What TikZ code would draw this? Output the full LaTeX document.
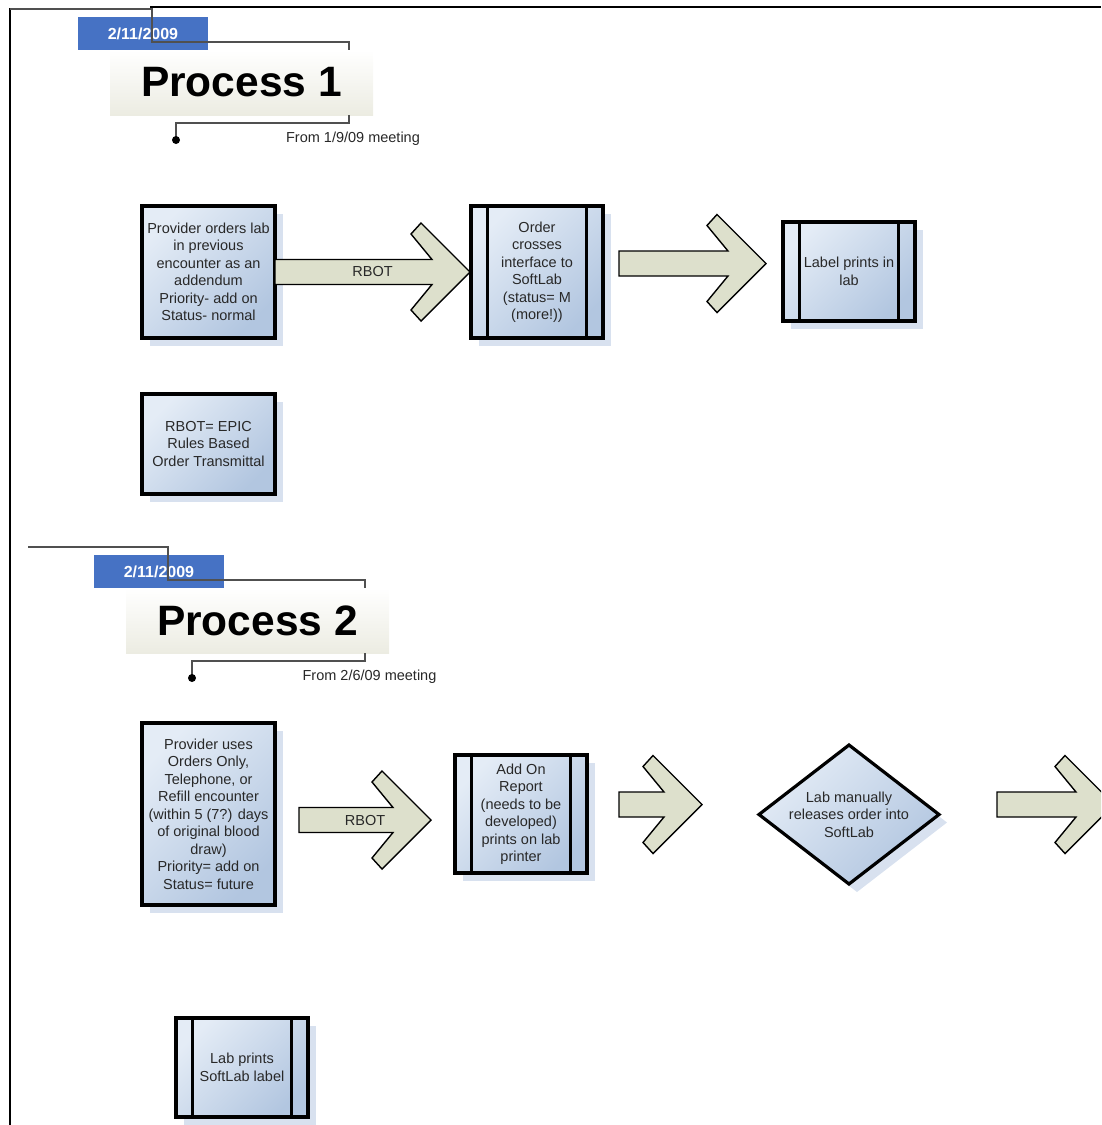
\documentclass[tikz,border=0pt]{standalone}
\usepackage{fontspec}
\setmainfont{Liberation Sans}
\usetikzlibrary{shapes.geometric, shadows, calc}

\definecolor{boxtop}{RGB}{228,236,246}
\definecolor{boxbot}{RGB}{178,198,224}
\definecolor{shadowbl}{RGB}{216,225,239}
\definecolor{arrowfill}{RGB}{221,224,204}
\definecolor{datebl}{RGB}{70,114,196}
\definecolor{titlebot}{RGB}{236,236,226}
\definecolor{txtgray}{RGB}{40,40,40}
\definecolor{callgray}{RGB}{80,80,80}

\tikzset{
  flowbox/.style={draw=black, line width=3.2pt, outer sep=0pt, inner sep=0pt,
    top color=boxtop, bottom color=boxbot, shading angle=45,
    drop shadow={shadow xshift=8pt, shadow yshift=-8pt, fill=shadowbl, opacity=1},
    text=txtgray, align=center, font=\fontsize{14.5}{17.5}\selectfont},
  barline/.style={line width=3.2pt},
  bigarrow/.style={draw=black, line width=1.4pt, fill=arrowfill, line join=miter},
  arrowtext/.style={text=txtgray, font=\fontsize{14.5}{17.5}\selectfont},
  datebox/.style={fill=datebl, text=white, minimum width=130pt, minimum height=33pt,
    inner sep=0pt, font=\fontsize{16}{18}\selectfont\bfseries},
  titlebox/.style={top color=white, bottom color=titlebot, minimum width=263pt,
    minimum height=65pt, inner sep=0pt, font=\fontsize{42.5}{48}\selectfont\bfseries},
  callout/.style={draw=callgray, line width=1.2pt},
  note/.style={text=txtgray, inner sep=0pt, font=\fontsize{14.5}{17}\selectfont}
}

% fat block arrow: start, tip, label
\newcommand{\fatarrow}[3]{%
  \draw[bigarrow] let \p1=(#1), \p2=(#2) in
    (\x1,\y2+12.5pt) -- (\x2-38pt,\y2+12.5pt) -- (\x2-59pt,\y2+38pt)
    -- (\x2-49pt,\y2+49pt) -- (\x2,\y2) -- (\x2-49pt,\y2-49pt)
    -- (\x2-59pt,\y2-38pt) -- (\x2-38pt,\y2-12.5pt) -- (\x1,\y2-12.5pt) -- cycle
    ({(\x1+\x2)/2},\y2) node[arrowtext]{#3};}
% the two inner bars of a process box
\newcommand{\sidebars}[1]{%
  \draw[barline] ([xshift=16.5pt]#1.north west) -- ([xshift=16.5pt]#1.south west)
    ([xshift=-16.5pt]#1.north east) -- ([xshift=-16.5pt]#1.south east);}

\begin{document}
\begin{tikzpicture}[x=1pt, y=-1pt]
\clip (0,0) rectangle (1101,1125);
% page frame
\draw[line width=1.5pt] (10,1125) -- (10,8) (150,7) -- (1101,7);

% Process 1 heading
\node[datebox] (date1) at (143,33.5) {2/11/2009};
\node[titlebox] (title1) at (241.5,82.5) {Process 1};
\draw[callout] (10,9) -| (152,42) -| (349,50);
\draw[callout] (349,115) -- (349,123) -| (176,140);
\fill (176,140) circle (4pt);
\node[note] (note1) at (353,139) {From 1/9/09 meeting};

% Process 1 flow
\node[flowbox, minimum width=133pt, minimum height=132pt] (p1src) at (208.5,272)
  {Provider orders lab\\in previous\\encounter as an\\addendum\\Priority- add on\\Status- normal};
\node[flowbox, minimum width=132pt, minimum height=132pt] (p1ord) at (537,272)
  {Order\\crosses\\interface to\\SoftLab\\(status= M\\(more!))};
\sidebars{p1ord}
\node[flowbox, minimum width=132pt, minimum height=99pt] (p1lbl) at (849,271.5)
  {Label prints in\\lab};
\sidebars{p1lbl}
\node[flowbox, minimum width=133pt, minimum height=100pt] (rbotdef) at (208.5,444)
  {RBOT= EPIC\\Rules Based\\Order Transmittal};
\fatarrow{p1src.east}{[xshift=-1pt]p1ord.west}{RBOT}
\fatarrow{[xshift=16pt]p1ord.east}{[xshift=-17pt,yshift=8pt]p1lbl.west}{}

% Process 2 heading
\node[datebox] (date2) at (159,571.5) {2/11/2009};
\node[titlebox] (title2) at (257.5,620.5) {Process 2};
\draw[callout] (28,547) -| (168,580) -| (365,588);
\draw[callout] (365,653) -- (365,661) -| (192,678);
\fill (192,678) circle (4pt);
\node[note] (note2) at (369.5,677) {From 2/6/09 meeting};

% Process 2 flow
\node[flowbox, minimum width=133pt, minimum height=182pt] (p2src) at (208.5,814)
  {Provider uses\\Orders Only,\\Telephone, or\\Refill encounter\\(within 5 (7?) days\\of original blood\\draw)\\Priority= add on\\Status= future};
\node[flowbox, minimum width=132pt, minimum height=118pt] (p2add) at (521,814)
  {Add On\\Report\\(needs to be\\developed)\\prints on lab\\printer};
\sidebars{p2add}
\node[flowbox, diamond, aspect=1.3, minimum width=180pt, minimum height=139pt] (p2dia) at (849,814.5)
  {Lab manually\\releases order into\\SoftLab};
\node[flowbox, minimum width=132pt, minimum height=99pt] (p2lbl) at (242,1067.5)
  {Lab prints\\SoftLab label};
\sidebars{p2lbl}
\fatarrow{[xshift=24pt]p2src.east}{[xshift=-24pt,yshift=-6pt]p2add.west}{RBOT}
\fatarrow{[xshift=32pt]p2add.east}{[xshift=-57pt,yshift=10pt]p2dia.west}{}
\fatarrow{[xshift=58pt]p2dia.east}{[xshift=175pt,yshift=10pt]p2dia.east}{}
\end{tikzpicture}
\end{document}
